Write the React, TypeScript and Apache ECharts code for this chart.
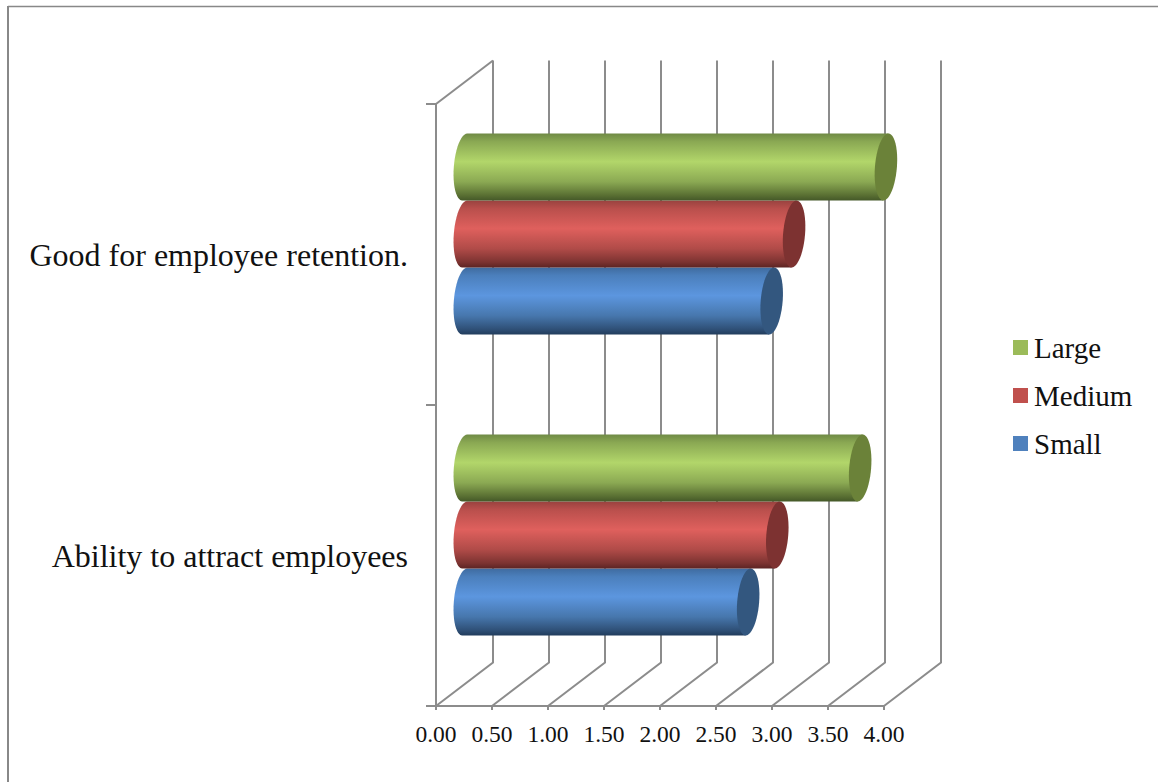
import React, { useEffect, useRef } from "react";
import * as echarts from "echarts";

const categories = ["Ability to attract employees", "Good for employee retention."];
const smallValues = [2.53, 2.74];
const mediumValues = [2.79, 2.94];
const largeValues = [3.53, 3.76];
const axisTicks = [0, 0.5, 1, 1.5, 2, 2.5, 3, 3.5, 4];
const legendOrder = ["Large", "Medium", "Small"];

const FONT = '"Liberation Serif", "Times New Roman", serif';
const GRID_GRAY = "#8c8c8c";
const GRID_WIDTH = 2;

// Depth of the floor and of the walls behind it
const WALL_DX = 57;
const WALL_DY = 43.5;
// Cylinders stand half way back on the floor
const BAR_DX = 28.8;
const BAR_DY = 20.5;
const BAR_THICK = 67;
const CAP_RX = 11;
const CAP_SHEAR = 2.5;

type Shade = { legend: string; cap: string; stops: [number, string][] };

const greenShade: Shade = {
  legend: "#9bbb59",
  cap: "#6b8239",
  stops: [
    [0, "#6f8a45"],
    [0.12, "#8aa853"],
    [0.42, "#b2d66a"],
    [0.72, "#8ba953"],
    [0.92, "#5a7033"],
    [1, "#445828"],
  ],
};
const redShade: Shade = {
  legend: "#c0504d",
  cap: "#7d3231",
  stops: [
    [0, "#99423f"],
    [0.12, "#b94f4c"],
    [0.42, "#df605d"],
    [0.72, "#b04b48"],
    [0.92, "#7c3331"],
    [1, "#5c2423"],
  ],
};
const blueShade: Shade = {
  legend: "#4f81bd",
  cap: "#33577f",
  stops: [
    [0, "#3f6b9f"],
    [0.12, "#4b7fbc"],
    [0.42, "#5c96df"],
    [0.72, "#4777ad"],
    [0.92, "#2f5077"],
    [1, "#213c5c"],
  ],
};

// Outline point of an end cap; the shear leans the ellipse a little to the right at its top
function capPoint(cx: number, cy: number, ry: number, angle: number): number[] {
  return [
    cx + CAP_RX * Math.cos(angle) - CAP_SHEAR * Math.sin(angle),
    cy + ry * Math.sin(angle),
  ];
}

function cylinderSeries(name: string, values: number[], slot: number, shade: Shade) {
  return {
    name,
    type: "custom",
    coordinateSystem: "cartesian2d",
    silent: true,
    clip: false,
    z: 3 + (1 - slot),
    itemStyle: { color: shade.legend },
    encode: { x: 0, y: 1 },
    data: values.map((v, i) => [v, i]),
    renderItem: (_params: any, api: any) => {
      const end = api.coord([api.value(0), api.value(1)]);
      const start = api.coord([0, api.value(1)]);
      const cy = end[1] - BAR_DY + slot * BAR_THICK;
      const x0 = start[0] + BAR_DX;
      const x1 = end[0] + BAR_DX;
      const ry = BAR_THICK / 2;
      const body: number[][] = [];
      // Left rounded end, running from the top of the cap round to its bottom
      for (let k = 0; k <= 24; k++) {
        body.push(capPoint(x0, cy, ry, -Math.PI / 2 - (Math.PI * k) / 24));
      }
      body.push(capPoint(x1, cy, ry, Math.PI / 2));
      body.push(capPoint(x1, cy, ry, -Math.PI / 2));
      const cap: number[][] = [];
      for (let k = 0; k < 48; k++) {
        cap.push(capPoint(x1, cy, ry, (2 * Math.PI * k) / 48));
      }
      return {
        type: "group",
        children: [
          {
            type: "polygon",
            shape: { points: body },
            style: {
              fill: new echarts.graphic.LinearGradient(
                0,
                0,
                0,
                1,
                shade.stops.map(([offset, color]) => ({ offset, color }))
              ),
            },
          },
          { type: "polygon", shape: { points: cap }, style: { fill: shade.cap } },
        ],
      };
    },
  };
}

// Floor diagonals and back wall uprights, one per value tick
const wallSeries = {
  type: "custom",
  coordinateSystem: "cartesian2d",
  silent: true,
  clip: false,
  z: 1,
  encode: { x: 0, y: 1 },
  data: axisTicks.map((v) => [v, 0]),
  renderItem: (params: any, api: any) => {
    const x = api.coord([api.value(0), 0])[0];
    const box = params.coordSys;
    const bottom = box.y + box.height;
    const top = box.y;
    const children: any[] = [
      {
        type: "polyline",
        shape: {
          points: [
            [x, bottom],
            [x + WALL_DX, bottom - WALL_DY],
            [x + WALL_DX, top - WALL_DY],
          ],
        },
        style: { fill: "none", stroke: GRID_GRAY, lineWidth: GRID_WIDTH },
      },
    ];
    if (api.value(0) === 0) {
      children.push({
        type: "line",
        shape: { x1: x, y1: top, x2: x + WALL_DX, y2: top - WALL_DY },
        style: { stroke: GRID_GRAY, lineWidth: GRID_WIDTH },
      });
    }
    return { type: "group", children };
  },
};

export default function App() {
  const ref = useRef<HTMLDivElement>(null);

  useEffect(() => {
    const chart = echarts.init(ref.current!, undefined, { renderer: "svg" });
    chart.setOption({
      animation: false,
      backgroundColor: "#ffffff",
      textStyle: { fontFamily: FONT },
      grid: { left: 436, top: 104, width: 448, height: 602, containLabel: false },
      xAxis: {
        type: "value",
        min: 0,
        max: 4,
        interval: 0.5,
        splitLine: { show: false },
        axisLine: { show: true, lineStyle: { color: GRID_GRAY, width: GRID_WIDTH } },
        axisTick: { show: true, length: 4, lineStyle: { color: GRID_GRAY, width: GRID_WIDTH } },
        axisLabel: {
          formatter: (v: number) => v.toFixed(2),
          color: "#111111",
          fontFamily: FONT,
          fontSize: 23.5,
          margin: 16,
          hideOverlap: false,
          showMinLabel: true,
          showMaxLabel: true,
        },
      },
      yAxis: {
        type: "category",
        data: categories,
        axisLine: { show: true, lineStyle: { color: GRID_GRAY, width: GRID_WIDTH } },
        axisTick: { show: true, length: 10, lineStyle: { color: GRID_GRAY, width: GRID_WIDTH } },
        splitLine: { show: false },
        axisLabel: {
          color: "#111111",
          fontFamily: FONT,
          fontSize: 32,
          margin: 28,
          interval: 0,
        },
      },
      legend: {
        orient: "vertical",
        left: 1013,
        top: 333,
        padding: 0,
        itemWidth: 15,
        itemHeight: 15,
        itemGap: 19,
        icon: "rect",
        selectedMode: false,
        data: legendOrder,
        textStyle: { color: "#111111", fontFamily: FONT, fontSize: 29, padding: [0, 0, 0, 1] },
      },
      graphic: [
        {
          type: "line",
          silent: true,
          shape: { x1: 8, y1: 6.5, x2: 1158, y2: 6.5 },
          style: { stroke: "#888888", lineWidth: 1.5 },
        },
        {
          type: "line",
          silent: true,
          shape: { x1: 8, y1: 6, x2: 8, y2: 782 },
          style: { stroke: "#888888", lineWidth: 2 },
        },
      ],
      series: [
        wallSeries,
        cylinderSeries("Small", smallValues, 1, blueShade),
        cylinderSeries("Medium", mediumValues, 0, redShade),
        cylinderSeries("Large", largeValues, -1, greenShade),
      ],
    });
    return () => chart.dispose();
  }, []);

  return (
    <div
      ref={ref}
      style={{ position: "absolute", left: 0, top: 0, width: 1158, height: 782, overflow: "hidden" }}
    />
  );
}
